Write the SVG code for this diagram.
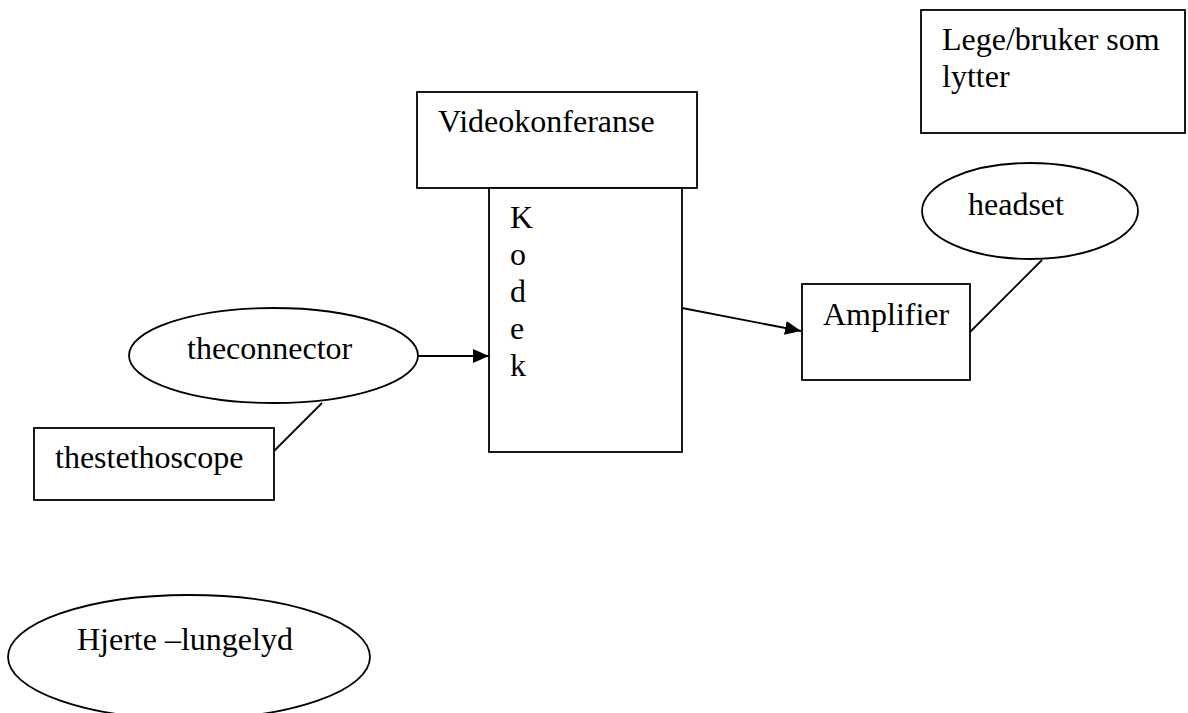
<svg xmlns="http://www.w3.org/2000/svg" width="1188" height="713" viewBox="0 0 1188 713">
  <style>
    .shape { fill: #ffffff; stroke: #000000; stroke-width: 1.8; }
    .link { fill: none; stroke: #000000; stroke-width: 1.8; }
    .label { font-family: "Liberation Serif", "Times New Roman", serif; font-size: 32px; fill: #000000; }
  </style>
  <defs>
    <marker id="arrow" markerUnits="userSpaceOnUse" markerWidth="17" markerHeight="14" refX="16" refY="7" orient="auto">
      <path d="M0,0 L16,7 L0,14 Z" fill="#000000"/>
    </marker>
  </defs>
  <rect width="1188" height="713" fill="#ffffff"/>

  <!-- connectors -->
  <g id="connectors">
    <line class="link" x1="417" y1="356" x2="489" y2="356" marker-end="url(#arrow)"/>
    <line class="link" x1="682" y1="308" x2="801" y2="331" marker-end="url(#arrow)"/>
    <line class="link" x1="322" y1="403" x2="274" y2="451"/>
    <line class="link" x1="1042" y1="260" x2="970" y2="332"/>
  </g>

  <g id="lege">
    <rect class="shape" x="921" y="10" width="264" height="123"/>
    <text class="label" x="942" y="50">Lege/bruker som</text>
    <text class="label" x="942" y="87">lytter</text>
  </g>

  <g id="videokonferanse">
    <rect class="shape" x="417" y="92" width="280" height="96"/>
    <text class="label" x="438" y="132">Videokonferanse</text>
  </g>

  <g id="kodek">
    <rect class="shape" x="489" y="188" width="193" height="264"/>
    <text class="label" x="510" y="228">K</text>
    <text class="label" x="510" y="265">o</text>
    <text class="label" x="510" y="302">d</text>
    <text class="label" x="510" y="339">e</text>
    <text class="label" x="510" y="376">k</text>
  </g>

  <g id="headset">
    <ellipse class="shape" cx="1030" cy="211" rx="108" ry="48"/>
    <text class="label" x="968" y="215">headset</text>
  </g>

  <g id="amplifier">
    <rect class="shape" x="802" y="284" width="168" height="96"/>
    <text class="label" x="823" y="325">Amplifier</text>
  </g>

  <g id="theconnector">
    <ellipse class="shape" cx="273.5" cy="355.5" rx="144.5" ry="47.5"/>
    <text class="label" x="187" y="359">theconnector</text>
  </g>

  <g id="thestethoscope">
    <rect class="shape" x="34" y="428" width="240" height="72"/>
    <text class="label" x="55" y="468">thestethoscope</text>
  </g>

  <g id="hjerte-lungelyd">
    <ellipse class="shape" cx="189" cy="657" rx="181" ry="62"/>
    <text class="label" x="77" y="650">Hjerte –lungelyd</text>
  </g>
</svg>
